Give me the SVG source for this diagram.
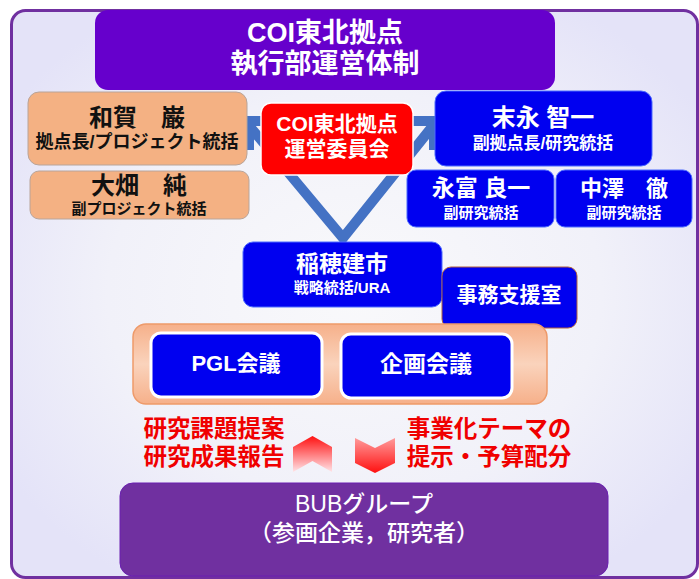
<svg xmlns="http://www.w3.org/2000/svg" width="699" height="579" viewBox="0 0 699 579">
<defs>
<radialGradient id="bg" cx="50%" cy="50%" r="60%">
<stop offset="0" stop-color="#F9F9FB"/>
<stop offset="0.6" stop-color="#F1F1F9"/>
<stop offset="1" stop-color="#E4E3F8"/>
</radialGradient>
<linearGradient id="orangeG" x1="0" y1="0" x2="0" y2="1">
<stop offset="0" stop-color="#F6B08A"/>
<stop offset="0.5" stop-color="#FAD3BC"/>
<stop offset="1" stop-color="#F6B08A"/>
</linearGradient>
<linearGradient id="upG" x1="0" y1="0" x2="0" y2="1">
<stop offset="0" stop-color="#FF1010"/>
<stop offset="1" stop-color="#FFE4E8"/>
</linearGradient>
<linearGradient id="downG" x1="0" y1="0" x2="0" y2="1">
<stop offset="0" stop-color="#FF9A9A"/>
<stop offset="1" stop-color="#FF1010"/>
</linearGradient>
<style>
text{font-family:"Liberation Sans","Noto Sans CJK JP",sans-serif;font-weight:bold;text-anchor:middle}
.w{fill:#FFFFFF}
.k{fill:#111111}
.r{fill:#F00000}
.peach{fill:#F4B183;stroke:#B8A49A;stroke-width:1}
.blue{fill:#0000F0;stroke:#4D6BFF;stroke-width:1}
.blueW{fill:#0000F0;stroke:#FFFFFF;stroke-width:3}
.conn{fill:none;stroke:#4472C4;stroke-width:10;stroke-linejoin:miter}
</style>
</defs>

<rect x="11.5" y="10.5" width="686" height="567" rx="14" fill="url(#bg)" stroke="#7030A0" stroke-width="3"/>

<g id="connectors">
<path class="conn" d="M246 122 L343 238 L436 122"/>
<path class="conn" d="M275 121 L249 121 L249 150"/>
<path class="conn" d="M408 121 L434 121 L434 150"/>
</g>

<g id="title">
<rect x="95" y="10" width="460" height="80" rx="13" fill="#6600CC"/>
<text class="w" x="325" y="42" font-size="27">COI東北拠点</text>
<text class="w" x="325" y="73" font-size="27">執行部運営体制</text>
</g>

<g id="waga">
<rect class="peach" x="28" y="92" width="219" height="73" rx="11"/>
<text class="k" x="137" y="126" font-size="24">和賀　巌</text>
<text class="k" x="137" y="148" font-size="18">拠点長/プロジェクト統括</text>
</g>

<g id="ohata">
<rect class="peach" x="30" y="171" width="219" height="48" rx="9"/>
<text class="k" x="139" y="194" font-size="24">大畑　純</text>
<text class="k" x="139" y="214" font-size="15">副プロジェクト統括</text>
</g>

<g id="unei">
<rect x="261" y="103" width="152" height="72" rx="10" fill="#FF0000" stroke="#FFFFFF" stroke-width="1.5"/>
<text class="w" x="337" y="131" font-size="21">COI東北拠点</text>
<text class="w" x="337" y="156" font-size="21">運営委員会</text>
</g>

<g id="suenaga">
<rect class="blue" x="435" y="91" width="217" height="75" rx="11"/>
<text class="w" x="543" y="126" font-size="24">末永 智一</text>
<text class="w" x="543" y="149" font-size="17">副拠点長/研究統括</text>
</g>

<g id="nagatomi">
<rect class="blue" x="407" y="170" width="147" height="57" rx="9"/>
<text class="w" x="481" y="196" font-size="23">永富 良一</text>
<text class="w" x="481" y="218" font-size="15">副研究統括</text>
</g>

<g id="nakazawa">
<rect class="blue" x="556" y="170" width="136" height="57" rx="9"/>
<text class="w" x="624" y="196" font-size="22">中澤　徹</text>
<text class="w" x="624" y="218" font-size="15">副研究統括</text>
</g>

<g id="inaho">
<rect class="blue" x="243" y="242" width="199" height="65" rx="10"/>
<text class="w" x="342" y="272" font-size="23">稲穂建市</text>
<text class="w" x="342" y="293" font-size="15">戦略統括/URA</text>
</g>

<g id="jimu">
<rect x="442" y="267" width="135" height="61" rx="9" fill="#0000F0" stroke="#B06040" stroke-width="1"/>
<text class="w" x="509" y="302" font-size="21">事務支援室</text>
</g>

<g id="kaigi">
<rect x="133" y="324" width="414" height="80" rx="13" fill="url(#orangeG)" stroke="#EE9A6A" stroke-width="1.5"/>
</g>

<g id="pgl">
<rect class="blueW" x="151" y="333" width="171" height="64" rx="10"/>
<text class="w" x="236" y="371" font-size="22">PGL会議</text>
</g>

<g id="kikaku">
<rect class="blueW" x="341" y="334" width="171" height="64" rx="10"/>
<text class="w" x="426" y="372" font-size="23">企画会議</text>
</g>

<g id="flow-up">
<text class="r" x="214" y="437" font-size="23.5">研究課題提案</text>
<text class="r" x="214" y="465" font-size="23.5">研究成果報告</text>
<polygon points="293,447 312.5,436 332,447 332,472 312.5,461 293,472" fill="url(#upG)"/>
</g>

<g id="flow-down">
<polygon points="355,438 375,448 395,438 395,463 375,473 355,463" fill="url(#downG)"/>
<text class="r" x="489" y="437" font-size="23.5">事業化テーマの</text>
<text class="r" x="489" y="465" font-size="23.5">提示・予算配分</text>
</g>

<g id="bub">
<rect x="120" y="483" width="488" height="93" rx="13" fill="#7030A0" stroke="#6A1FB0" stroke-width="1"/>
<text class="w" x="364" y="512" font-size="23" style="font-weight:500">BUBグループ</text>
<text class="w" x="364" y="541" font-size="23" style="font-weight:500">（参画企業，研究者）</text>
</g>
</svg>
